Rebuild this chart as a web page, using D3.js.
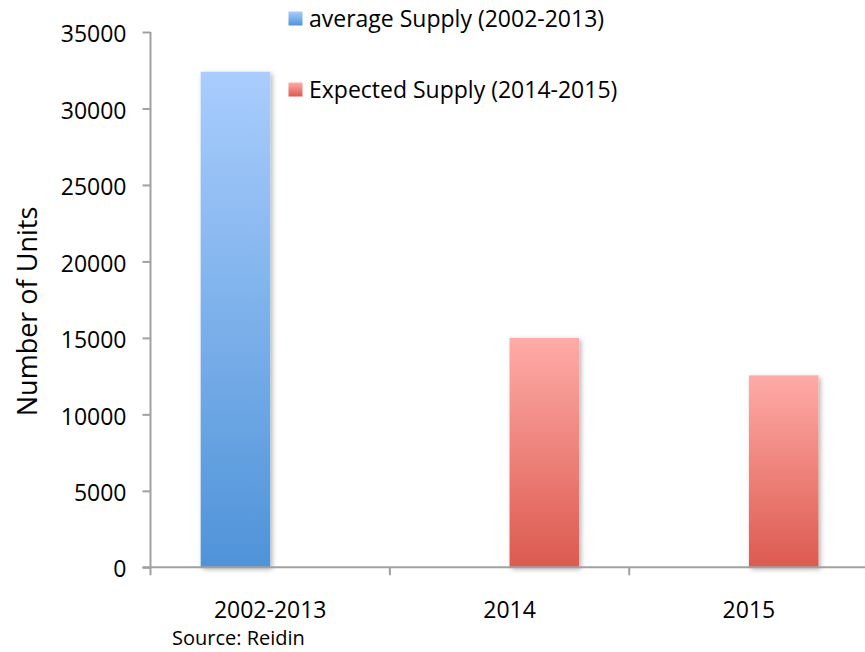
<!DOCTYPE html>
<html>
<head>
<meta charset="utf-8">
<script src="https://cdn.jsdelivr.net/npm/d3@7/dist/d3.min.js"></script>
<style>
  html, body { margin: 0; padding: 0; background: #fff; }
  svg { display: block; font-family: "Open Sans", "Noto Sans", sans-serif; }
</style>
</head>
<body>
<svg id="chart" width="865" height="652"></svg>
<script>
// ---- data ----
const categories = ["2002-2013", "2014", "2015"];
const seriesNames = ["average Supply (2002-2013)", "Expected Supply (2014-2015)"];
const averageSupply = [32400, null, null];
const expectedSupply = [null, 15000, 12550];
const yTicks = [0, 5000, 10000, 15000, 20000, 25000, 30000, 35000];
const yTitle = "Number of Units";
const sourceNote = "Source: Reidin";

// ---- layout ----
const W = 865, H = 652;
const xLeft = 150.5, xRight = 868.6;
const yTop = 32, yBottom = 567.3;
const barW = 69.5;
const axisColor = "#a0a0a0";

const svg = d3.select("#chart");

const defs = svg.append("defs");
function grad(id, top, bottom) {
  const g = defs.append("linearGradient").attr("id", id)
    .attr("x1", 0).attr("y1", 0).attr("x2", 0).attr("y2", 1);
  g.append("stop").attr("offset", "0%").attr("stop-color", top);
  g.append("stop").attr("offset", "100%").attr("stop-color", bottom);
}
grad("gBlue", "#a9cdfd", "#4f93d8");
grad("gRed", "#ffaba7", "#dc5a4f");
const f = defs.append("filter").attr("id", "shadow")
  .attr("x", "-20%").attr("y", "-20%").attr("width", "150%").attr("height", "150%");
f.append("feDropShadow").attr("dx", 2).attr("dy", 2).attr("stdDeviation", 2.5)
  .attr("flood-color", "#000").attr("flood-opacity", 0.3);

const fills = ["url(#gBlue)", "url(#gRed)"];

const y = d3.scaleLinear().domain([0, 35000]).range([yBottom, yTop]);
const x0 = d3.scaleBand().domain(categories).range([xLeft, xRight]).padding(0);
const bw = x0.bandwidth();
const x1 = d3.scaleBand().domain(seriesNames).range([bw / 2 - barW, bw / 2 + barW]).padding(0);

const series = [averageSupply, expectedSupply];

// ---- bars ----
const gBars = svg.append("g");
series.forEach((vals, si) => {
  gBars.selectAll(".bar" + si)
    .data(categories.map((c, i) => ({ c, v: vals[i] })).filter(d => d.v != null))
    .enter().append("rect")
    .attr("x", d => x0(d.c) + x1(seriesNames[si]))
    .attr("width", x1.bandwidth())
    .attr("y", d => y(d.v))
    .attr("height", d => y(0) - y(d.v))
    .attr("fill", fills[si])
    .attr("filter", "url(#shadow)");
});

// ---- y axis ----
const yAxis = d3.axisLeft(y).tickValues(yTicks).tickSize(8).tickSizeOuter(0).tickPadding(16)
  .tickFormat(d3.format("d"));
const gy = svg.append("g").attr("transform", `translate(${xLeft},0)`).call(yAxis);
gy.select(".domain").remove();
gy.append("line").attr("x1", 0).attr("x2", 0).attr("y1", yTop).attr("y2", yBottom + 8)
  .attr("stroke", axisColor).attr("stroke-width", 2);
gy.selectAll(".tick line").attr("stroke", axisColor).attr("stroke-width", 2);
gy.selectAll(".tick text").attr("font-size", 23).attr("fill", "#000")
  .attr("font-family", "'Open Sans', sans-serif").attr("dy", "0.42em");

// ---- x axis ----
const gx = svg.append("g").attr("transform", `translate(0,${yBottom})`);
gx.append("line").attr("x1", xLeft - 8).attr("x2", xRight).attr("y1", 0).attr("y2", 0)
  .attr("stroke", axisColor).attr("stroke-width", 2);
gx.selectAll(".xtick").data(categories.slice(1)).enter().append("line")
  .attr("x1", d => x0(d)).attr("x2", d => x0(d))
  .attr("y1", 0).attr("y2", 8)
  .attr("stroke", axisColor).attr("stroke-width", 2);
gx.selectAll(".xlab").data(categories).enter().append("text")
  .attr("x", d => x0(d) + bw / 2)
  .attr("y", 51)
  .attr("text-anchor", "middle")
  .attr("font-size", 23)
  .attr("fill", "#000")
  .text(d => d);

// ---- y title ----
svg.append("text")
  .attr("transform", `translate(37,${311.5}) rotate(-90)`)
  .attr("text-anchor", "middle")
  .attr("font-size", 27)
  .attr("fill", "#000")
  .text(yTitle);

// ---- source ----
svg.append("text")
  .attr("x", 172).attr("y", 645)
  .attr("font-size", 20)
  .attr("fill", "#000")
  .text(sourceNote);

// ---- legend ----
const legendY = [19, 90];
const lg = svg.append("g");
seriesNames.forEach((name, i) => {
  lg.append("rect").attr("x", 288.5).attr("y", legendY[i] - 7.5)
    .attr("width", 14).attr("height", 14).attr("fill", fills[i]);
  lg.append("text").attr("x", 309).attr("y", legendY[i]).attr("dy", "0.36em")
    .attr("font-size", 23).attr("fill", "#000").text(name);
});
</script>
</body>
</html>
